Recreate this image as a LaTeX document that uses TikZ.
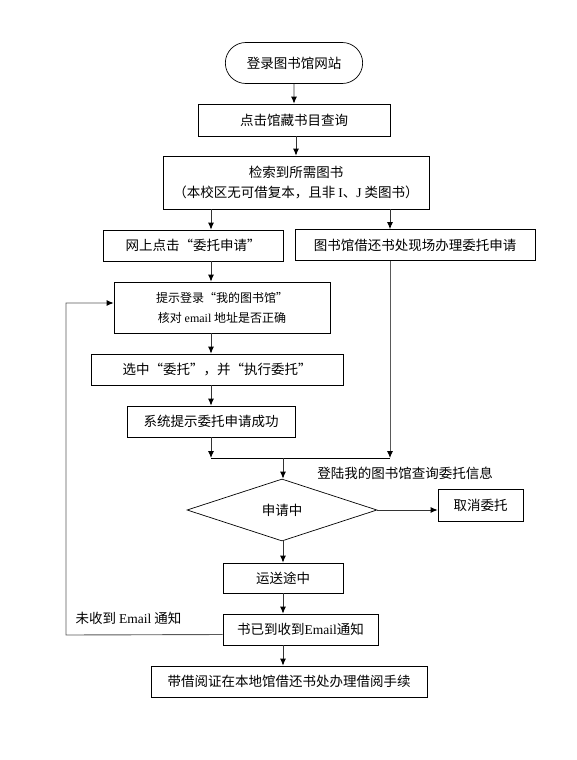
\documentclass[tikz,border=0pt]{standalone}
\usepackage{fontspec}
\setmainfont{Noto Sans CJK SC}
\newfontfamily\lat{Liberation Serif}
\usetikzlibrary{arrows, arrows.meta, shapes, shapes.geometric, shapes.misc, calc}

\begin{document}
\begin{tikzpicture}[x=1pt, y=-1pt,
	font=\fontsize{13.5}{20}\selectfont,
	box/.style={draw, rectangle, inner sep=0pt, line width=0.7pt, align=center},
	tip/.style={-{Latex[length=7pt, width=6pt, black]}},
	arr/.style={tip, line width=0.9pt, black!80},
	gline/.style={line width=0.9pt, black!65}]
	\useasboundingbox (0,0) rectangle (577,760);
	\def\h{31}
	\coordinate (colL) at (211,0);
	\coordinate (colM) at (283,0);
	\coordinate (colR) at (390,0);
	\coordinate (mL) at (211,458);
	\coordinate (mM) at (283,458);
	\coordinate (mR) at (390,458);
	\coordinate (back) at (66,635);

	\node[draw, rounded rectangle, line width=0.7pt, minimum width=144, minimum height=41] (start) at (294,63) {登录图书馆网站};
	\node[box, minimum width=192, minimum height=32] (query) at (294,120) {点击馆藏书目查询};
	\node[box, minimum width=266, minimum height=53] (found) at (296,182.5) {检索到所需图书\\（本校区无可借复本，且非 {\lat I}、{\lat J} 类图书）};
	\node[box, minimum width=180, minimum height=\h] (online) at (193,245.5) {网上点击“委托申请”};
	\node[box, minimum width=240, minimum height=\h] (counter) at (415,245) {图书馆借还书处现场办理委托申请};
	\node[box, minimum width=216, minimum height=51, font=\fontsize{12}{20}\selectfont] (prompt) at (222,307.5) {提示登录“我的图书馆”\\核对 {\lat email} 地址是否正确};
	\node[box, minimum width=252, minimum height=\h] (select) at (217,369.5) {选中“委托”，并“执行委托”};
	\node[box, minimum width=168, minimum height=\h] (success) at (211,421.5) {系统提示委托申请成功};
	\node[draw, diamond, line width=0.7pt, minimum width=190, minimum height=62, inner sep=0pt] (dia) at (282,510) {申请中};
	\node (qlabel) at (405,473) {登陆我的图书馆查询委托信息};
	\node[box, minimum width=85, minimum height=32] (cancel) at (480.5,505) {取消委托};
	\node[box, minimum width=120, minimum height=30] (transit) at (283,578) {运送途中};
	\node[box, minimum width=155, minimum height=\h] (arrived) at (300.5,629.5) {书已到收到{\lat Email}通知};
	\node[box, minimum width=276, minimum height=\h] (final) at (289,681.5) {带借阅证在本地馆借还书处办理借阅手续};
	\node[anchor=west] (nomail) at (72,618) {未收到 {\lat Email} 通知};

	\draw[arr] (start) -- (query);
	\draw[arr] (query.south -| found.north) -- (found.north);
	\draw[arr] (found.south -| colL) -- (online.north -| colL);
	\draw[arr] (found.south -| colR) -- (counter.north -| colR);
	\draw[arr] (online.south -| colL) -- (prompt.north -| colL);
	\draw[arr] (prompt.south -| colL) -- (select.north -| colL);
	\draw[arr] (select.south -| colL) -- (success.north -| colL);
	\draw[arr] (success.south -| colL) -- (mL);
	\draw[gline, tip] (counter.south -| colR) -- (mR);
	\draw[line width=0.9pt] (mL) -- (mR);
	\draw[arr] (mM) -- (mM |- dia.north);
	\draw[arr] (dia.east) -- (dia.east -| cancel.west);
	\draw[arr] (dia.south -| colM) -- (transit.north -| colM);
	\draw[arr] (transit.south -| colM) -- (arrived.north -| colM);
	\draw[arr] (arrived.south -| colM) -- (final.north -| colM);
	\draw[gline, tip] ([yshift=-5pt]arrived.west) -- (back) |- ([yshift=4.5pt]prompt.west);
\end{tikzpicture}
\end{document}
